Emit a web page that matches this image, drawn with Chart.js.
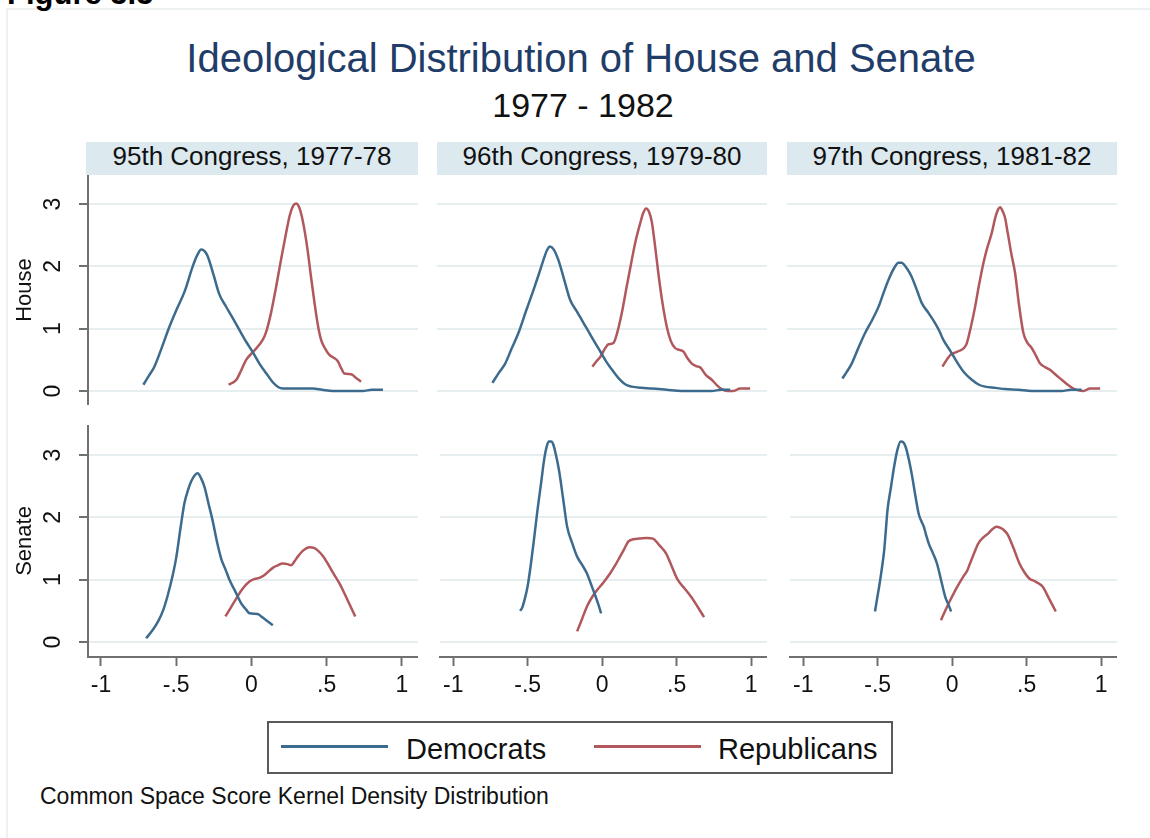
<!DOCTYPE html>
<html>
<head>
<meta charset="utf-8">
<title>Ideological Distribution of House and Senate</title>
<script src="https://cdn.jsdelivr.net/npm/chart.js@4.4.1/dist/chart.umd.min.js"></script>
<style>
  html, body { margin: 0; padding: 0; background: #ffffff; }
  body {
    width: 1150px; height: 838px; position: relative; overflow: hidden;
    font-family: "Liberation Sans", Arial, Helvetica, sans-serif; color: #111;
  }
  .txt { position: absolute; white-space: nowrap; line-height: 1; }
  #frame {
    position: absolute; left: 6px; top: 8px; width: 1160px; height: 850px;
    border-top: 2px solid #edf1f2; border-left: 2px solid #edf1f2;
  }
  #figlabel { left: 7px; top: -22px; font-size: 31px; font-weight: bold; color: #000; }
  #title { left: 6px; width: 1150px; text-align: center; top: 38px; font-size: 40px; color: #1f3d68; }
  #subtitle { left: 8px; width: 1150px; text-align: center; top: 88px; font-size: 34px; color: #111; }
  .strip {
    position: absolute; top: 142px; height: 33px; background: #dce9ef;
    text-align: center; font-size: 26px; line-height: 29px; color: #111; white-space: nowrap;
  }
  #legend {
    position: absolute; left: 267px; top: 721px; width: 622px; height: 49px;
    border: 2px solid #5a5a5a; box-sizing: content-box;
  }
  .legline { position: absolute; height: 2.5px; }
  .legtext { font-size: 29px; color: #111; }
  #caption { left: 40px; top: 785px; font-size: 23px; color: #111; }
  canvas { position: absolute; }
</style>
</head>
<body>
<div id="frame"></div>
<div id="figlabel" class="txt">Figure 5.5</div>
<div id="title" class="txt">Ideological Distribution of House and Senate</div>
<div id="subtitle" class="txt">1977 - 1982</div>
<div id="legend"></div>
<div id="caption" class="txt">Common Space Score Kernel Density Distribution</div>

<script>
// ---- Labels ----
const congresses = ['95th Congress, 1977-78', '96th Congress, 1979-80', '97th Congress, 1981-82'];
const chambers = ['House', 'Senate'];
const seriesNames = ['Democrats', 'Republicans'];
const xTickValues = [-1, -0.5, 0, 0.5, 1];
const xTickLabels = ['-1', '-.5', '0', '.5', '1'];
const yTickValues = [0, 1, 2, 3];
const yTickLabels = ['0', '1', '2', '3'];

// ---- Kernel density curves: [common space score, density] ----
const house95Dem = [[-0.718,0.10],[-0.68,0.25],[-0.645,0.39],[-0.595,0.70],[-0.545,1.03],[-0.495,1.32],[-0.445,1.59],[-0.39,2.0],[-0.36,2.18],[-0.334,2.27],[-0.31,2.24],[-0.29,2.16],[-0.25,1.85],[-0.213,1.55],[-0.17,1.36],[-0.124,1.17],[-0.08,0.98],[-0.035,0.79],[0.01,0.62],[0.053,0.44],[0.10,0.28],[0.142,0.14],[0.18,0.06],[0.208,0.04],[0.30,0.04],[0.408,0.04],[0.47,0.02],[0.54,0.0],[0.64,0.0],[0.74,0.0],[0.80,0.02],[0.874,0.02]];
const house95Rep = [[-0.151,0.10],[-0.10,0.18],[-0.07,0.32],[-0.035,0.50],[0.02,0.65],[0.075,0.82],[0.098,0.95],[0.13,1.25],[0.164,1.67],[0.20,2.15],[0.23,2.53],[0.255,2.82],[0.277,2.97],[0.297,3.01],[0.315,2.96],[0.335,2.80],[0.355,2.55],[0.374,2.25],[0.395,1.85],[0.419,1.42],[0.44,1.08],[0.463,0.82],[0.49,0.68],[0.518,0.58],[0.55,0.53],[0.573,0.48],[0.60,0.35],[0.618,0.28],[0.662,0.27],[0.70,0.20],[0.728,0.15]];
const senate95Dem = [[-0.70,0.06],[-0.66,0.18],[-0.62,0.33],[-0.585,0.52],[-0.556,0.75],[-0.525,1.05],[-0.50,1.35],[-0.47,1.85],[-0.445,2.23],[-0.42,2.45],[-0.40,2.58],[-0.375,2.68],[-0.357,2.71],[-0.335,2.63],[-0.312,2.49],[-0.285,2.22],[-0.257,1.94],[-0.23,1.62],[-0.20,1.33],[-0.17,1.15],[-0.146,1.0],[-0.105,0.80],[-0.068,0.62],[-0.035,0.52],[-0.013,0.46],[0.042,0.45],[0.07,0.40],[0.098,0.35],[0.142,0.27]];
const senate95Rep = [[-0.173,0.41],[-0.135,0.56],[-0.10,0.70],[-0.06,0.85],[-0.013,0.97],[0.02,1.01],[0.053,1.03],[0.085,1.07],[0.108,1.12],[0.142,1.19],[0.175,1.23],[0.208,1.26],[0.24,1.25],[0.263,1.23],[0.285,1.29],[0.308,1.37],[0.345,1.47],[0.385,1.52],[0.415,1.51],[0.44,1.47],[0.475,1.38],[0.507,1.26],[0.545,1.10],[0.585,0.94],[0.62,0.77],[0.655,0.59],[0.69,0.41]];

const house96Dem = [[-0.718,0.13],[-0.675,0.29],[-0.633,0.44],[-0.59,0.68],[-0.545,0.93],[-0.495,1.28],[-0.445,1.62],[-0.41,1.87],[-0.379,2.10],[-0.355,2.26],[-0.334,2.32],[-0.31,2.27],[-0.279,2.10],[-0.24,1.78],[-0.201,1.46],[-0.16,1.29],[-0.124,1.14],[-0.085,0.98],[-0.047,0.82],[0.0,0.63],[0.042,0.46],[0.09,0.30],[0.131,0.18],[0.17,0.10],[0.208,0.07],[0.27,0.05],[0.341,0.04],[0.44,0.02],[0.54,0.0],[0.64,0.0],[0.74,0.0],[0.80,0.02],[0.862,0.02]];
const house96Rep = [[-0.053,0.39],[-0.025,0.48],[0.0,0.55],[0.03,0.68],[0.053,0.75],[0.086,0.77],[0.11,0.92],[0.142,1.25],[0.175,1.68],[0.208,2.10],[0.235,2.42],[0.264,2.69],[0.285,2.86],[0.304,2.93],[0.322,2.88],[0.341,2.72],[0.362,2.35],[0.385,1.89],[0.41,1.45],[0.441,1.03],[0.468,0.80],[0.496,0.69],[0.525,0.66],[0.552,0.63],[0.58,0.52],[0.607,0.44],[0.635,0.40],[0.662,0.38],[0.70,0.26],[0.74,0.18],[0.775,0.09],[0.806,0.03],[0.845,0.0],[0.884,0.0],[0.928,0.04],[0.995,0.04]];
const senate96Dem = [[-0.551,0.50],[-0.537,0.55],[-0.523,0.66],[-0.50,0.90],[-0.478,1.26],[-0.455,1.70],[-0.434,2.12],[-0.41,2.55],[-0.39,2.92],[-0.372,3.14],[-0.357,3.22],[-0.342,3.22],[-0.328,3.17],[-0.31,3.0],[-0.29,2.76],[-0.262,2.30],[-0.235,1.85],[-0.20,1.58],[-0.168,1.37],[-0.135,1.24],[-0.102,1.10],[-0.075,0.93],[-0.047,0.75],[-0.025,0.60],[-0.007,0.46]];
const senate96Rep = [[-0.168,0.17],[-0.135,0.37],[-0.102,0.57],[-0.07,0.71],[-0.035,0.83],[0.01,0.96],[0.053,1.10],[0.085,1.22],[0.12,1.37],[0.15,1.50],[0.175,1.61],[0.21,1.65],[0.252,1.66],[0.30,1.67],[0.341,1.66],[0.385,1.55],[0.43,1.42],[0.47,1.20],[0.507,1.0],[0.55,0.87],[0.596,0.73],[0.64,0.57],[0.684,0.40]];

const house97Dem = [[-0.718,0.20],[-0.688,0.31],[-0.656,0.44],[-0.61,0.70],[-0.567,0.93],[-0.52,1.14],[-0.478,1.35],[-0.445,1.57],[-0.412,1.78],[-0.375,1.97],[-0.345,2.06],[-0.325,2.06],[-0.29,1.97],[-0.257,1.83],[-0.22,1.60],[-0.19,1.41],[-0.145,1.25],[-0.102,1.09],[-0.075,0.97],[-0.047,0.82],[0.0,0.64],[0.042,0.47],[0.09,0.30],[0.142,0.18],[0.19,0.10],[0.23,0.07],[0.30,0.05],[0.363,0.03],[0.45,0.02],[0.54,0.0],[0.64,0.0],[0.74,0.0],[0.80,0.02],[0.872,0.02]];
const house97Rep = [[-0.053,0.39],[-0.025,0.50],[0.0,0.58],[0.035,0.62],[0.064,0.65],[0.09,0.69],[0.108,0.76],[0.135,1.02],[0.164,1.35],[0.19,1.70],[0.219,2.05],[0.245,2.30],[0.274,2.53],[0.30,2.80],[0.318,2.92],[0.33,2.95],[0.348,2.88],[0.363,2.78],[0.38,2.55],[0.405,2.20],[0.43,1.89],[0.455,1.40],[0.485,0.93],[0.51,0.78],[0.54,0.69],[0.57,0.56],[0.596,0.44],[0.625,0.39],[0.662,0.34],[0.70,0.26],[0.74,0.18],[0.78,0.10],[0.817,0.04],[0.85,0.01],[0.884,0.0],[0.928,0.04],[0.995,0.04]];
const senate97Dem = [[-0.518,0.49],[-0.505,0.68],[-0.49,0.89],[-0.472,1.18],[-0.456,1.48],[-0.445,1.80],[-0.434,2.12],[-0.41,2.50],[-0.39,2.81],[-0.368,3.08],[-0.346,3.22],[-0.33,3.21],[-0.312,3.13],[-0.29,2.92],[-0.268,2.65],[-0.245,2.32],[-0.224,2.05],[-0.205,1.93],[-0.19,1.85],[-0.175,1.72],[-0.157,1.58],[-0.13,1.43],[-0.102,1.26],[-0.075,1.0],[-0.047,0.73],[-0.025,0.60],[-0.007,0.49]];
const senate97Rep = [[-0.075,0.35],[-0.045,0.51],[-0.013,0.67],[0.03,0.87],[0.075,1.05],[0.10,1.14],[0.12,1.26],[0.15,1.44],[0.175,1.58],[0.21,1.68],[0.241,1.74],[0.27,1.81],[0.297,1.85],[0.325,1.83],[0.35,1.79],[0.374,1.72],[0.41,1.52],[0.452,1.26],[0.485,1.12],[0.518,1.02],[0.56,0.97],[0.607,0.89],[0.65,0.70],[0.696,0.49]];

// ---- Styling and panel geometry ----
const FONT = '"Liberation Sans", Arial, Helvetica, sans-serif';
const seriesColors = ['#3d6b8e', '#b1585d'];
const AXIS_COLOR = '#707070';
const GRID_COLOR = '#e6eef0';
const PLOT_LEFT = [88, 437, 787];
const PLOT_WIDTH = 330;
const ROW_TOP = [175, 425];
const ROW_HEIGHT = [230, 232];
const Y_AXIS_W = 88;
const X_AXIS_H = 45;
const X_RANGE = [-1.086, 1.107];
const Y_RANGE = [[-0.225, 3.467], [-0.241, 3.483]];

const panelSeries = [
  [[house95Dem, house95Rep], [house96Dem, house96Rep], [house97Dem, house97Rep]],
  [[senate95Dem, senate95Rep], [senate96Dem, senate96Rep], [senate97Dem, senate97Rep]]
];

const toPoints = arr => arr.map(([x, y]) => ({ x, y }));

// Vertical (rotated) tick labels on the left axis, placed by the y scale.
const rotatedYTicks = {
  id: 'rotatedYTicks',
  afterDraw(chart, args, opts) {
    if (!opts.show) return;
    const scale = chart.scales.y;
    const ctx = chart.ctx;
    ctx.save();
    ctx.font = '23px ' + FONT;
    ctx.fillStyle = '#111';
    ctx.textAlign = 'center';
    ctx.textBaseline = 'middle';
    scale.ticks.forEach(t => {
      const y = scale.getPixelForValue(t.value);
      ctx.save();
      ctx.translate(opts.x, y);
      ctx.rotate(-Math.PI / 2);
      ctx.fillText(yTickLabels[yTickValues.indexOf(t.value)], 0, 0);
      ctx.restore();
    });
    ctx.restore();
  }
};

function buildPanel(row, col) {
  const [dem, rep] = panelSeries[row][col];
  const hasY = col === 0;
  const hasX = row === 1;
  const axisW = hasY ? Y_AXIS_W : 0;
  const axisH = hasX ? X_AXIS_H : 0;
  const w = PLOT_WIDTH + axisW;
  const h = ROW_HEIGHT[row] + axisH;

  const canvas = document.createElement('canvas');
  canvas.width = w;
  canvas.height = h;
  canvas.style.left = (PLOT_LEFT[col] - axisW) + 'px';
  canvas.style.top = ROW_TOP[row] + 'px';
  canvas.style.width = w + 'px';
  canvas.style.height = h + 'px';
  document.body.appendChild(canvas);

  const line = (data, i) => ({
    label: seriesNames[i],
    data: toPoints(data),
    borderColor: seriesColors[i],
    backgroundColor: seriesColors[i],
    borderWidth: 2.5,
    pointRadius: 0,
    cubicInterpolationMode: 'monotone',
    fill: false
  });

  new Chart(canvas, {
    type: 'line',
    data: { datasets: [line(dem, 0), line(rep, 1)] },
    options: {
      responsive: false,
      animation: false,
      events: [],
      layout: { padding: 0 },
      plugins: {
        legend: { display: false },
        tooltip: { enabled: false },
        rotatedYTicks: { show: hasY, x: 54 }
      },
      scales: {
        x: {
          type: 'linear',
          display: hasX,
          min: X_RANGE[0],
          max: X_RANGE[1],
          afterBuildTicks: s => { s.ticks = xTickValues.map(v => ({ value: v })); },
          afterFit: s => { s.height = axisH; },
          border: { display: true, color: AXIS_COLOR, width: 2 },
          grid: { drawOnChartArea: false, drawTicks: true, tickLength: 9, tickColor: AXIS_COLOR, tickWidth: 2 },
          ticks: {
            padding: 6,
            color: '#111',
            maxRotation: 0,
            autoSkip: false,
            font: { size: 23, family: FONT },
            callback: v => xTickLabels[xTickValues.indexOf(v)]
          }
        },
        y: {
          type: 'linear',
          display: true,
          min: Y_RANGE[row][0],
          max: Y_RANGE[row][1],
          afterBuildTicks: s => { s.ticks = yTickValues.map(v => ({ value: v })); },
          afterFit: s => { s.width = axisW; },
          border: { display: hasY, color: AXIS_COLOR, width: 2 },
          grid: { color: GRID_COLOR, lineWidth: 2, drawTicks: hasY, tickLength: 9, tickColor: AXIS_COLOR, tickWidth: 2 },
          ticks: { display: false },
          title: {
            display: hasY,
            text: chambers[row],
            color: '#111',
            font: { size: 22, family: FONT },
            padding: { top: 12, bottom: 0 }
          }
        }
      }
    },
    plugins: [rotatedYTicks]
  });
}

// Column header strips
congresses.forEach((name, col) => {
  const d = document.createElement('div');
  d.className = 'strip';
  d.style.left = (PLOT_LEFT[col] - (col === 0 ? 2 : 0)) + 'px';
  d.style.width = (PLOT_WIDTH + (col === 0 ? 2 : 0)) + 'px';
  d.textContent = name;
  document.body.appendChild(d);
});

for (let row = 0; row < 2; row++) {
  for (let col = 0; col < 3; col++) buildPanel(row, col);
}

// Legend
const legend = document.getElementById('legend');
const legendLineLeft = [12, 325];
const legendTextLeft = [137, 449];
seriesNames.forEach((name, i) => {
  const l = document.createElement('div');
  l.className = 'legline';
  l.style.left = legendLineLeft[i] + 'px';
  l.style.top = '22px';
  l.style.width = '107px';
  l.style.background = seriesColors[i];
  legend.appendChild(l);
  const t = document.createElement('div');
  t.className = 'txt legtext';
  t.style.left = legendTextLeft[i] + 'px';
  t.style.top = '12px';
  t.textContent = name;
  legend.appendChild(t);
});
</script>
</body>
</html>
